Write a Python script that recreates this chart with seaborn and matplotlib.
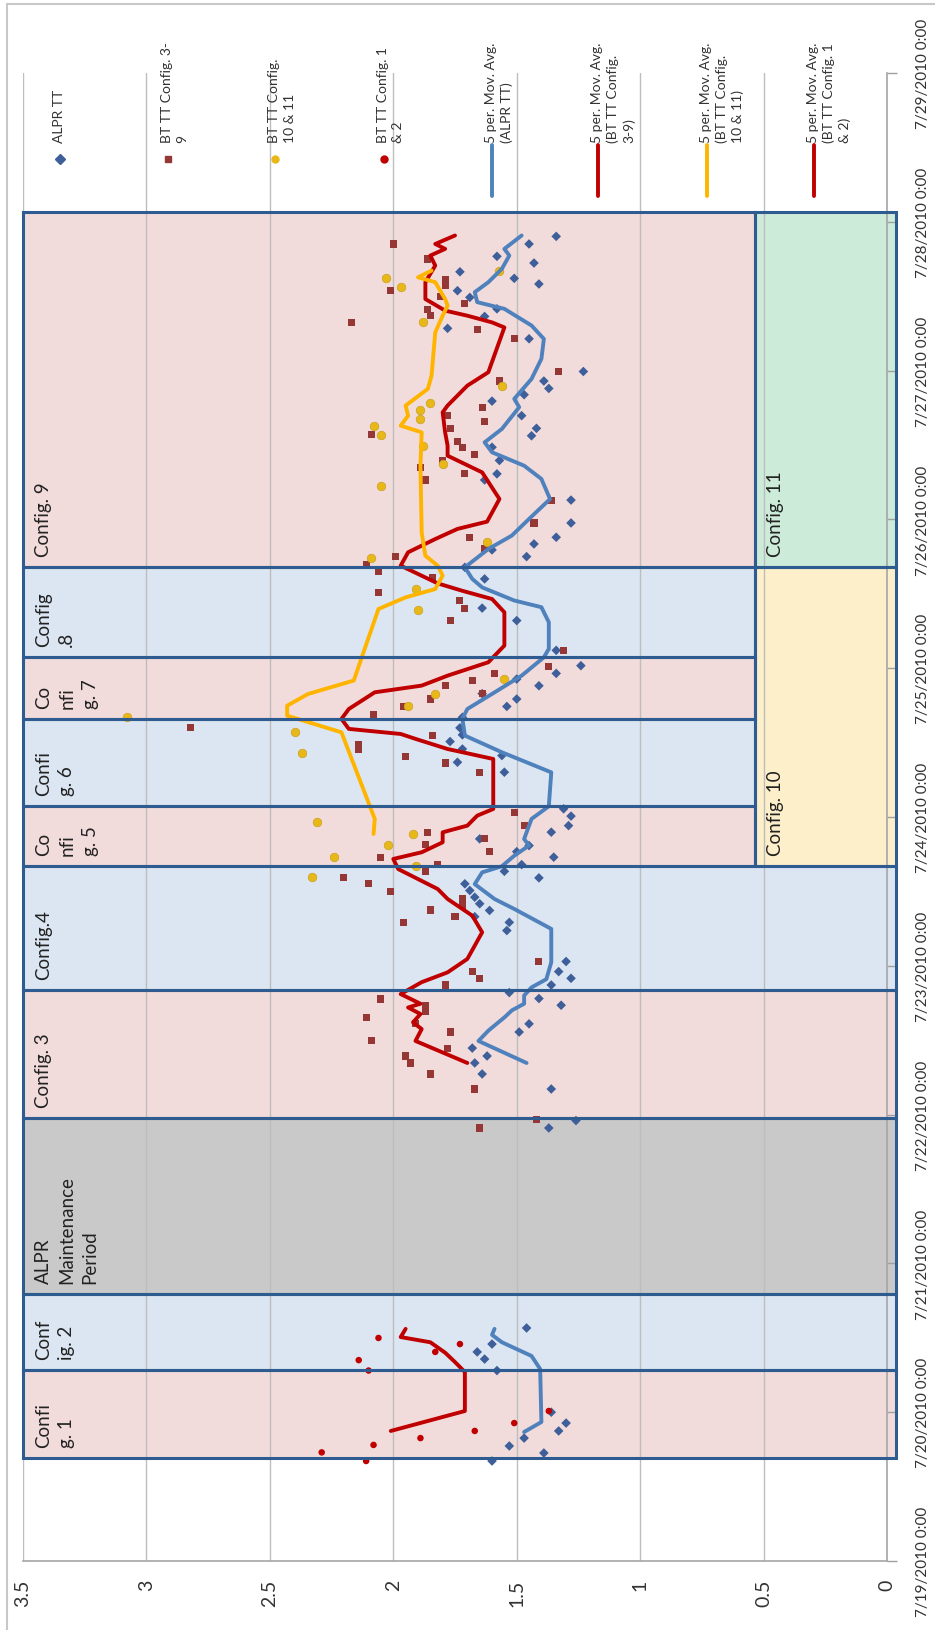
import matplotlib.pyplot as plt
import matplotlib.patches as mpatches
from matplotlib.lines import Line2D
import seaborn as sns

# travel time (hours) vs. day offset from 7/19/2010 0:00
DATE_LABELS = [f"7/{d}/2010 0:00" for d in range(19, 30)]
VALUE_TICKS = [0, 0.5, 1, 1.5, 2, 2.5, 3, 3.5]
VALUE_LABELS = ["0", "0.5", "1", "1.5", "2", "2.5", "3", "3.5"]

ALPR_DAY = [0.672, 0.726, 0.773, 0.826, 0.874, 0.927, 1.0, 1.28, 1.357, 1.405, 1.458, 1.566,
            2.91, 2.96, 3.172, 3.273, 3.347, 3.394, 3.447, 3.555, 3.61, 3.735, 3.78, 3.82,
            3.871, 3.916, 3.961, 4.029, 4.237, 4.292, 4.33, 4.372, 4.417, 4.461, 4.506, 4.551,
            4.591, 4.635, 4.68, 4.73, 4.767, 4.808, 4.853, 4.898, 4.942, 5.006, 5.055, 5.301,
            5.368, 5.413, 5.457, 5.507, 5.552, 5.599, 5.67, 5.743, 5.793, 5.829, 5.882, 5.927,
            5.965, 6.017, 6.12, 6.32, 6.404, 6.6, 6.678, 6.75, 6.795, 6.835, 6.88, 6.976,
            7.13, 7.265, 7.306, 7.396, 7.485, 7.562, 7.612, 7.697, 7.795, 7.838, 7.88, 7.93,
            7.994, 8.214, 8.284, 8.364, 8.415, 8.492, 8.537, 8.582, 8.62, 8.664, 8.723, 8.768,
            8.851, 8.902]
ALPR_TT = [1.60, 1.39, 1.53, 1.47, 1.33, 1.30, 1.36, 1.58, 1.63, 1.66, 1.60, 1.46,
           1.37, 1.26, 1.36, 1.64, 1.67, 1.62, 1.68, 1.49, 1.45, 1.32, 1.41, 1.53,
           1.36, 1.28, 1.33, 1.30, 1.54, 1.53, 1.67, 1.61, 1.65, 1.67, 1.69, 1.71,
           1.41, 1.55, 1.48, 1.35, 1.50, 1.45, 1.65, 1.36, 1.29, 1.28, 1.31, 1.55,
           1.74, 1.56, 1.72, 1.77, 1.72, 1.73, 1.72, 1.54, 1.50, 1.64, 1.41, 1.50,
           1.34, 1.24, 1.34, 1.50, 1.64, 1.63, 1.71, 1.46, 1.60, 1.43, 1.34, 1.28,
           1.28, 1.63, 1.58, 1.57, 1.60, 1.44, 1.42, 1.48, 1.60, 1.47, 1.37, 1.39,
           1.23, 1.45, 1.78, 1.63, 1.58, 1.69, 1.74, 1.41, 1.51, 1.73, 1.43, 1.58,
           1.45, 1.34]

BT39_DAY = [2.91, 2.964, 3.172, 3.273, 3.347, 3.394, 3.447, 3.50, 3.555, 3.61, 3.65, 3.69,
            3.73, 3.777, 3.871, 3.916, 3.961, 4.031, 4.292, 4.33, 4.375, 4.404, 4.449, 4.502,
            4.551, 4.591, 4.634, 4.678, 4.725, 4.767, 4.815, 4.853, 4.894, 4.942, 5.032, 5.296,
            5.363, 5.407, 5.457, 5.49, 5.55, 5.60, 5.689, 5.743, 5.793, 5.827, 5.882, 5.92,
            5.965, 6.01, 6.12, 6.32, 6.404, 6.454, 6.51, 6.611, 6.649, 6.696, 6.75, 6.806,
            6.88, 6.976, 7.13, 7.265, 7.306, 7.35, 7.396, 7.436, 7.485, 7.523, 7.568, 7.612,
            7.656, 7.697, 7.75, 7.93, 7.992, 8.214, 8.277, 8.324, 8.369, 8.413, 8.452, 8.495,
            8.537, 8.574, 8.614, 8.75, 8.851]
BT39_TT = [1.65, 1.42, 1.67, 1.85, 1.93, 1.95, 1.78, 2.09, 1.77, 1.91, 2.11, 1.87,
           1.87, 2.05, 1.79, 1.65, 1.68, 1.41, 1.96, 1.75, 1.85, 1.72, 1.72, 2.01,
           2.10, 2.20, 1.87, 1.82, 2.05, 1.61, 1.87, 1.63, 1.86, 1.47, 1.51, 1.65,
           1.79, 1.95, 2.14, 2.14, 1.84, 2.82, 2.08, 1.96, 1.85, 1.64, 1.79, 1.68,
           1.59, 1.37, 1.31, 1.77, 1.71, 1.73, 2.06, 1.84, 2.06, 2.11, 1.99, 1.63,
           1.69, 1.43, 1.36, 1.87, 1.71, 1.89, 1.80, 1.67, 1.72, 1.74, 2.09, 1.77,
           1.63, 1.78, 1.64, 1.57, 1.33, 1.51, 1.66, 2.17, 1.85, 1.86, 1.71, 1.81,
           2.01, 1.79, 1.79, 1.86, 2.00]

BT1011_DAY = [4.596, 4.674, 4.73, 4.813, 4.886, 4.969, 5.43, 5.569, 5.67, 5.743, 5.827, 5.927,
              6.393, 6.532, 6.738, 6.846, 7.222, 7.369, 7.496, 7.568, 7.63, 7.675, 7.738,
              7.782, 7.898, 8.324, 8.56, 8.622, 8.672]
BT1011_TT = [2.33, 1.91, 2.24, 2.02, 1.92, 2.31, 2.37, 2.40, 3.08, 1.94, 1.83, 1.55,
             1.90, 1.91, 2.09, 1.62, 2.05, 1.80, 1.88, 2.05, 2.08, 1.89, 1.89,
             1.85, 1.56, 1.88, 1.97, 2.03, 1.57]

BT12_DAY = [0.672, 0.73, 0.78, 0.826, 0.874, 0.927, 1.008, 1.28, 1.35, 1.405, 1.458, 1.499]
BT12_TT = [2.11, 2.29, 2.08, 1.89, 1.67, 1.51, 1.37, 2.10, 2.14, 1.83, 1.73, 2.06]

# 5 period moving averages
MA_ALPR12_DAY = [0.867, 0.934, 1.29, 1.378, 1.47, 1.52, 1.56]
MA_ALPR12 = [1.47, 1.40, 1.405, 1.44, 1.56, 1.60, 1.59]
MA_ALPR_DAY = [3.347, 3.495, 3.564, 3.656, 3.70, 3.745, 3.80, 3.855, 3.91, 4.024, 4.248, 4.382,
               4.449, 4.549, 4.628, 4.669, 4.74, 4.808, 4.852, 4.987, 5.072, 5.30, 5.435, 5.547,
               5.66, 5.726, 5.827, 5.95, 6.073, 6.13, 6.309, 6.41, 6.455, 6.543, 6.6, 6.678,
               6.801, 6.891, 7.003, 7.137, 7.272, 7.361, 7.451, 7.518, 7.608, 7.754, 7.81, 7.944,
               8.079, 8.213, 8.303, 8.415, 8.46, 8.527, 8.594, 8.684, 8.773, 8.818, 8.908]
MA_ALPR = [1.46, 1.655, 1.615, 1.548, 1.52, 1.47, 1.47, 1.44, 1.38, 1.36, 1.36, 1.51,
           1.59, 1.67, 1.64, 1.56, 1.51, 1.45, 1.47, 1.44, 1.37, 1.36, 1.56, 1.71,
           1.72, 1.70, 1.60, 1.48, 1.39, 1.37, 1.37, 1.40, 1.51, 1.64, 1.68, 1.71,
           1.615, 1.52, 1.45, 1.365, 1.40, 1.47, 1.60, 1.63, 1.56, 1.49, 1.51, 1.44,
           1.40, 1.39, 1.44, 1.55, 1.66, 1.67, 1.615, 1.56, 1.53, 1.55, 1.48]

MA_BT39_DAY = [3.347, 3.495, 3.575, 3.62, 3.676, 3.72, 3.745, 3.81, 3.89, 3.956, 4.046, 4.225,
               4.337, 4.449, 4.516, 4.583, 4.65, 4.718, 4.763, 4.83, 4.897, 4.942, 5.009, 5.054,
               5.39, 5.457, 5.525, 5.558, 5.592, 5.659, 5.726, 5.838, 5.883, 5.95, 6.04, 6.152,
               6.376, 6.465, 6.52, 6.57, 6.689, 6.779, 6.868, 6.936, 6.985, 7.137, 7.316, 7.428,
               7.496, 7.585, 7.72, 7.765, 7.899, 7.989, 8.29, 8.324, 8.369, 8.403, 8.481, 8.594,
               8.706, 8.773, 8.818, 8.851, 8.908]
MA_BT39 = [1.70, 1.91, 1.885, 1.92, 1.89, 1.94, 1.89, 1.97, 1.885, 1.78, 1.70, 1.64,
           1.68, 1.78, 1.82, 1.90, 1.98, 2.00, 1.885, 1.80, 1.80, 1.70, 1.66, 1.595,
           1.595, 1.78, 1.91, 1.97, 2.18, 2.21, 2.18, 2.075, 1.885, 1.78, 1.615, 1.55,
           1.55, 1.60, 1.72, 1.82, 1.97, 1.94, 1.83, 1.74, 1.62, 1.57, 1.64, 1.78,
           1.78, 1.79, 1.80, 1.78, 1.70, 1.615, 1.55, 1.60, 1.70, 1.79, 1.87, 1.87,
           1.83, 1.85, 1.79, 1.83, 1.75]

MA_BT1011_DAY = [4.886, 4.987, 5.569, 5.681, 5.748, 5.827, 5.917, 6.062, 6.398, 6.476, 6.532,
                 6.622, 6.689, 6.756, 6.913, 7.361, 7.585, 7.63, 7.697, 7.765, 7.877, 7.966,
                 8.257, 8.369, 8.437, 8.481, 8.594, 8.627, 8.672]
MA_BT1011 = [2.08, 2.075, 2.21, 2.43, 2.43, 2.345, 2.16, 2.13, 2.06, 1.95, 1.83,
             1.80, 1.82, 1.87, 1.885, 1.89, 1.885, 1.97, 1.94, 1.95, 1.86, 1.845,
             1.83, 1.80, 1.78, 1.79, 1.83, 1.90, 1.845]

MA_BT12_DAY = [0.874, 1.008, 1.27, 1.337, 1.40, 1.47, 1.505, 1.56]
MA_BT12 = [2.01, 1.71, 1.71, 1.75, 1.79, 1.85, 1.97, 1.95]

# configuration periods (day offsets)
BOX_NAMES = ["Confi\ng. 1", "Conf\nig. 2", "ALPR\nMaintenance\nPeriod", "Config. 3",
             "Config.4", "Co\nnfi\ng. 5", "Confi\ng. 6", "Co\nnfi\ng. 7", "Config\n.8",
             "Config. 9", "Config. 10", "Config. 11"]
BOX_START = [0.692, 1.284, 1.794, 2.977, 3.837, 4.671, 5.074, 5.659, 6.075, 6.680, 4.671, 6.680]
BOX_END = [1.284, 1.794, 2.977, 3.837, 4.671, 5.074, 5.659, 6.075, 6.680, 9.066, 6.680, 9.066]

PINK, BLUE, GREY, YELLOW, GREEN = "#F2DCDB", "#DCE6F2", "#C9C9C9", "#FDEFC9", "#CDEBD9"
BOX_COLORS = [PINK, BLUE, GREY, PINK, BLUE, PINK, BLUE, PINK, BLUE, PINK, YELLOW, GREEN]
BOX_SPAN = [(3.5, -0.035)] * 5 + [(3.5, 0.535)] * 5 + [(0.535, -0.035)] * 2

C_ALPR, C_ALPR_MA = "#3F5F9A", "#4F81BD"
C_BT39, C_BT12, C_RED_MA = "#953735", "#C00000", "#C00000"
C_YEL, C_YEL_MA = "#E8B818", "#FFB400"

W, H = 935, 1631


def main() -> None:
    sns.set_theme(style="white")
    plt.rcParams["font.family"] = ["Lato", "DejaVu Sans"]

    fig = plt.figure(figsize=(W / 100, H / 100), dpi=100)
    ax = fig.add_axes([23 / W, (H - 1562) / H, 864 / W, (1562 - 74) / H])

    for name, d0, d1, color, (v0, v1) in zip(BOX_NAMES, BOX_START, BOX_END, BOX_COLORS, BOX_SPAN):
        ax.add_patch(mpatches.Rectangle((v1, d0), v0 - v1, d1 - d0, facecolor=color,
                                        edgecolor="none", zorder=1, clip_on=False))
        ax.add_patch(mpatches.Rectangle((v1, d0), v0 - v1, d1 - d0, facecolor="none",
                                        edgecolor="#2E5C91", lw=2.2, zorder=6, clip_on=False))
        ax.annotate(name, xy=(v0, d0), xytext=(12, 11), textcoords="offset pixels",
                    rotation=90, ha="left", va="bottom", multialignment="left",
                    fontsize=13.5, linespacing=1.45, color="#222222", zorder=7)

    sns.scatterplot(x=ALPR_TT, y=ALPR_DAY, marker="D", s=24, color=C_ALPR,
                    edgecolor="none", ax=ax, zorder=3)
    sns.scatterplot(x=BT39_TT, y=BT39_DAY, marker="s", s=26, color=C_BT39,
                    edgecolor="none", ax=ax, zorder=3)
    sns.scatterplot(x=BT1011_TT, y=BT1011_DAY, marker="o", s=38, color=C_YEL,
                    edgecolor="#C9A227", linewidth=0.5, ax=ax, zorder=3)
    sns.scatterplot(x=BT12_TT, y=BT12_DAY, marker="o", s=22, color=C_BT12,
                    edgecolor="none", ax=ax, zorder=3)

    for xs, ys, c in [(MA_ALPR12, MA_ALPR12_DAY, C_ALPR_MA), (MA_ALPR, MA_ALPR_DAY, C_ALPR_MA),
                      (MA_BT39, MA_BT39_DAY, C_RED_MA), (MA_BT1011, MA_BT1011_DAY, C_YEL_MA),
                      (MA_BT12, MA_BT12_DAY, C_RED_MA)]:
        sns.lineplot(x=xs, y=ys, sort=False, estimator=None, color=c, lw=2.8, ax=ax, zorder=4)

    ax.set_xlim(3.5, 0)
    ax.set_ylim(0, 10)
    ax.set_xticks(VALUE_TICKS)
    ax.set_xticklabels(VALUE_LABELS, rotation=90, fontsize=14, color="#333333")
    ax.yaxis.tick_right()
    ax.set_yticks(range(len(DATE_LABELS)))
    ax.set_yticklabels(DATE_LABELS, rotation=90, va="center", fontsize=11, color="#333333")
    ax.tick_params(axis="x", direction="out", length=7, width=1, color="#A0A0A0", pad=6)
    ax.tick_params(axis="y", direction="out", length=7, width=1, color="#A0A0A0", pad=14)
    ax.grid(axis="x", color="#BDBDBD", lw=1)
    ax.set_axisbelow("line")
    for side in ["top", "left"]:
        ax.spines[side].set_visible(False)
    for side in ["bottom", "right"]:
        ax.spines[side].set_color("#A6A6A6")
        ax.spines[side].set_linewidth(1.2)
    ax.set_xlabel("")
    ax.set_ylabel("")

    # legend, turned with the chart
    legend = [("ALPR TT", "D", C_ALPR), ("BT TT Config. 3-\n9", "s", C_BT39),
              ("BT TT Config.\n10 & 11", "o", C_YEL), ("BT TT Config. 1\n& 2", "o", C_BT12),
              ("5 per. Mov. Avg.\n(ALPR TT)", "-", C_ALPR_MA),
              ("5 per. Mov. Avg.\n(BT TT Config.\n3-9)", "-", C_RED_MA),
              ("5 per. Mov. Avg.\n(BT TT Config.\n10 & 11)", "-", C_YEL_MA),
              ("5 per. Mov. Avg.\n(BT TT Config. 1\n& 2)", "-", C_RED_MA)]
    leg_x = [60, 168, 275, 384, 492, 598, 707, 814]
    for (label, mk, c), x in zip(legend, leg_x):
        if mk == "-":
            fig.add_artist(Line2D([x / W, x / W], [1 - 146 / H, 1 - 197 / H], color=c, lw=2.8))
        else:
            fig.add_artist(Line2D([x / W], [1 - 160 / H], marker=mk, markersize=5, color=c,
                                  linestyle="none"))
        fig.text((x - 7) / W, 1 - 143 / H, label, rotation=90, ha="left", va="bottom",
                 multialignment="left", fontsize=10, linespacing=1.35, color="#333333")

    # chart area border
    fig.add_artist(Line2D([7 / W, 7 / W], [0, 1 - 5 / H], color="#C8C8C8", lw=1.5))
    fig.add_artist(Line2D([7 / W, 1], [1 - 5 / H, 1 - 5 / H], color="#C8C8C8", lw=1.5))

    fig.savefig("out.png", dpi=100)
    plt.close(fig)


if __name__ == "__main__":
    main()
